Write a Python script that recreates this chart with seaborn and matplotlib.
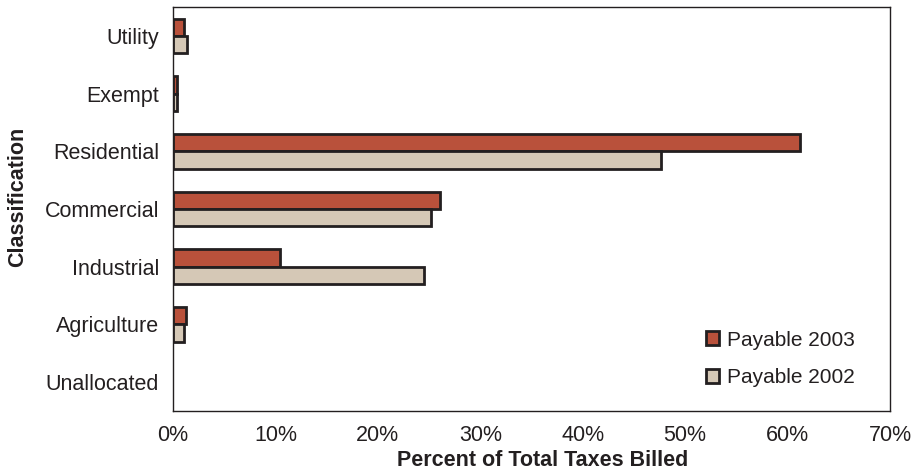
import pandas as pd
import matplotlib.pyplot as plt
import seaborn as sns
from matplotlib.ticker import PercentFormatter

# Data (percent of total taxes billed)
categories = ['Utility', 'Exempt', 'Residential', 'Commercial', 'Industrial', 'Agriculture', 'Unallocated']
payable_2003 = [1.1, 0.4, 61.2, 26.1, 10.4, 1.3, 0.0]
payable_2002 = [1.4, 0.4, 47.6, 25.2, 24.5, 1.1, 0.0]
series = ['Payable 2003', 'Payable 2002']
colors = ['#b9513b', '#d5c8b6']

df = pd.DataFrame({
    'Classification': categories * 2,
    'Percent': payable_2003 + payable_2002,
    'Series': [series[0]] * len(categories) + [series[1]] * len(categories),
})

sns.set_theme(style="white")
plt.rcParams['font.family'] = ['Liberation Sans', 'DejaVu Sans']
ink = '#231f20'

fig = plt.figure(figsize=(9.13, 4.72), dpi=100)
ax = fig.add_axes([0.1895, 0.1292, 0.7853, 0.856])

sns.barplot(data=df, y='Classification', x='Percent', hue='Series',
            order=categories, hue_order=series, palette=colors,
            orient='h', width=0.6, edgecolor=ink, linewidth=2.0,
            saturation=1, ax=ax)

# empty bars (Unallocated) show no outline in the original
for container in ax.containers:
    for bar in container:
        if bar.get_width() == 0:
            bar.set_visible(False)

ax.set_xlim(0, 70)
ax.set_xticks(range(0, 71, 10))
ax.xaxis.set_major_formatter(PercentFormatter(decimals=0))
ax.tick_params(axis='x', direction='out', length=4, width=1, colors=ink,
               labelsize=15.5, labelcolor=ink, pad=6)
ax.tick_params(axis='y', length=0, labelsize=15.5, labelcolor=ink, pad=10)
for side in ax.spines.values():
    side.set_color(ink)
    side.set_linewidth(1.0)

ax.set_xlabel('Percent of Total Taxes Billed', fontsize=15.5, fontweight='bold',
              color=ink, labelpad=3)
ax.xaxis.label.set_x(0.516)
ax.set_ylabel('Classification', fontsize=15.5, fontweight='bold', color=ink)
ax.yaxis.set_label_coords(-0.202, 0.53)

handles, labels = ax.get_legend_handles_labels()
ax.get_legend().remove()
ax.legend(handles, labels, loc='lower right', bbox_to_anchor=(0.962, 0.038),
          borderaxespad=0, frameon=False, fontsize=15, handlelength=0.65,
          handleheight=0.65, handletextpad=0.35, labelspacing=0.9,
          labelcolor=ink)

fig.savefig('out.png', dpi=100)
